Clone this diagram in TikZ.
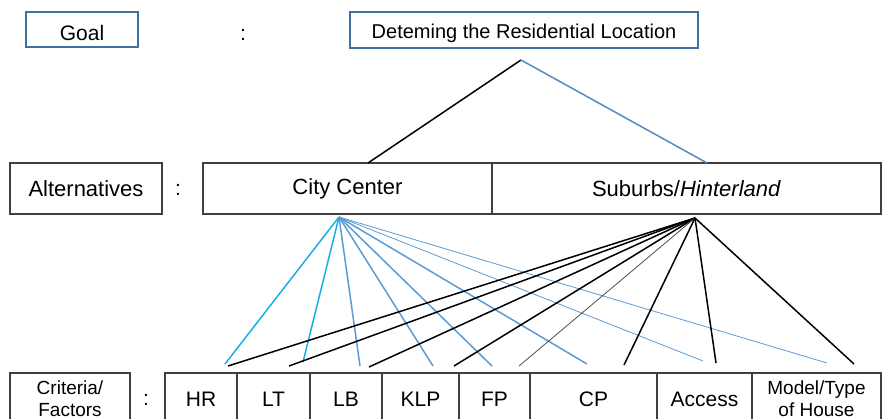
\documentclass[tikz,border=0pt]{standalone}
\usepackage{fontspec}
\setmainfont{Liberation Sans}
\definecolor{goalblue}{HTML}{41719C}
\definecolor{cyanl}{HTML}{1AAEE6}
\definecolor{steel}{HTML}{5B9BD5}
\definecolor{boxgray}{HTML}{404040}
\newcommand{\lowr}[1]{\raisebox{-3pt}[\height][\depth]{#1}}
\begin{document}
\begin{tikzpicture}[x=1pt,y=-1pt,
  gbox/.style={draw=goalblue,line width=1.6pt,inner sep=0pt},
  bbox/.style={draw=boxgray,line width=1.1pt,inner sep=0pt,align=center},
  lbl/.style={inner sep=0pt},
  bl/.style={black,line width=1.5pt},
  gr/.style={black!70,line width=0.8pt},
  cy/.style={cyanl,line width=1.5pt},
  st/.style={steel,line width=1.5pt},
  stt/.style={steel,line width=0.8pt}]
\useasboundingbox (0,0) rectangle (882,419);
\begin{scope}
\clip (0,0) rectangle (882,419);
% row 1
\node[gbox,minimum width=112pt,minimum height=35pt,font=\fontsize{21}{24}\selectfont] (goal) at (82,29.5) {\lowr{Goal}\hspace{10pt}};
\node[lbl,font=\fontsize{21}{24}\selectfont] (c1) at (243,35) {:};
\node[gbox,minimum width=348pt,minimum height=36pt,font=\fontsize{20}{24}\selectfont] (det) at (524,30) {\lowr{Deteming the Residential Location}};
\coordinate (apex) at (521,60);
% row 2
\node[bbox,minimum width=152pt,minimum height=51pt,font=\fontsize{22}{24}\selectfont] (alt) at (86,188.5) {Alternatives};
\node[lbl,font=\fontsize{21}{24}\selectfont] (c2) at (178,190) {:};
\node[bbox,minimum width=289pt,minimum height=51pt,font=\fontsize{22}{24}\selectfont] (city) at (347.5,188.5) {City Center};
\node[bbox,minimum width=389pt,minimum height=51pt,font=\fontsize{22}{24}\selectfont] (sub) at (686.5,188.5) {Suburbs/\textit{Hinterland}};
\coordinate (cityTop) at (368,163);
\coordinate (subTop) at (707,163);
\draw[bl] (apex) -- (cityTop);
\draw[steel!90!black,line width=1.5pt] (apex) -- (subTop);
% row 3
\node[bbox,minimum width=120pt,minimum height=52pt,font=\fontsize{19}{22}\selectfont] (crit) at (70,399) {Criteria/\\Factors};
\node[lbl,font=\fontsize{21}{24}\selectfont] (c3) at (146,400) {:};
\node[bbox,minimum width=72pt,minimum height=52pt,font=\fontsize{21}{24}\selectfont] (hr) at (201,399) {HR};
\node[bbox,minimum width=73pt,minimum height=52pt,font=\fontsize{21}{24}\selectfont] (lt) at (273.5,399) {LT};
\node[bbox,minimum width=72pt,minimum height=52pt,font=\fontsize{21}{24}\selectfont] (lb) at (346,399) {LB};
\node[bbox,minimum width=77pt,minimum height=52pt,font=\fontsize{21}{24}\selectfont] (klp) at (420.5,399) {KLP};
\node[bbox,minimum width=71pt,minimum height=52pt,font=\fontsize{21}{24}\selectfont] (fp) at (494.5,399) {FP};
\node[bbox,minimum width=127pt,minimum height=52pt,font=\fontsize{21}{24}\selectfont] (cp) at (593.5,399) {CP};
\node[bbox,minimum width=95pt,minimum height=52pt,font=\fontsize{21}{24}\selectfont] (acc) at (704.5,399) {Access};
\node[bbox,minimum width=129pt,minimum height=52pt,font=\fontsize{19}{22}\selectfont] (mod) at (816.5,399) {Model/Type\\of House};
\end{scope}
% connectors from City Center
\coordinate (cc) at (339,217);
\coordinate (sb) at (695,218);
\coordinate (e1) at (225,364);
\coordinate (e2) at (303,362);
\coordinate (e3) at (360,366);
\coordinate (e4) at (433,366);
\coordinate (e5) at (492,366);
\coordinate (e6) at (587,364);
\coordinate (e7) at (703,361);
\coordinate (e8) at (827,363);
\draw[cy] (cc) -- (e1);
\draw[cy] (cc) -- (e2);
\draw[st] (cc) -- (e3);
\draw[st] (cc) -- (e4);
\draw[st] (cc) -- (e5);
\draw[st] (cc) -- (e6);
\draw[stt] (cc) -- (e7);
\draw[stt] (cc) -- (e8);
% connectors from Suburbs
\coordinate (f1) at (228,366);
\coordinate (f2) at (289,366);
\coordinate (f3) at (369,367);
\coordinate (f4) at (454,366);
\coordinate (f5) at (519,366);
\coordinate (f6) at (624,365);
\coordinate (f7) at (716,363);
\coordinate (f8) at (854,364);
\draw[bl] (sb) -- (f1);
\draw[bl] (sb) -- (f2);
\draw[bl] (sb) -- (f3);
\draw[bl] (sb) -- (f4);
\draw[gr] (sb) -- (f5);
\draw[bl] (sb) -- (f6);
\draw[bl] (sb) -- (f7);
\draw[bl] (sb) -- (f8);
\end{tikzpicture}
\end{document}
